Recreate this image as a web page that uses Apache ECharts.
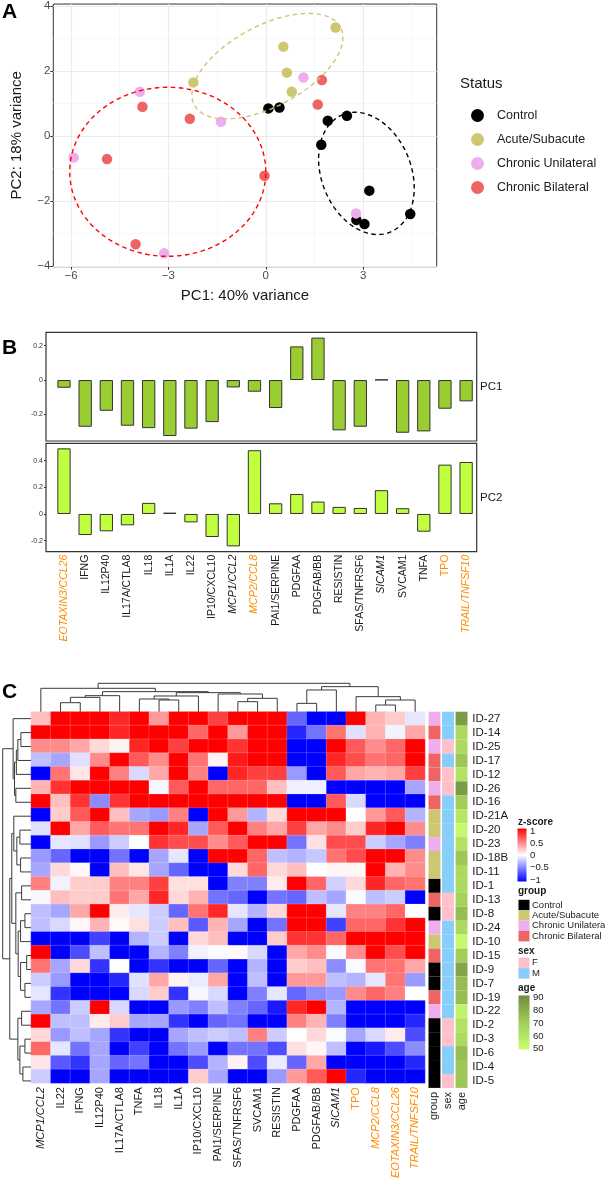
<!DOCTYPE html>
<html><head><meta charset="utf-8">
<script src="https://cdn.jsdelivr.net/npm/echarts@6/dist/echarts.min.js"></script>
<style>html,body{margin:0;padding:0;background:#fff}#c{width:605px;height:1181px}</style>
</head><body><div id="c"></div>
<script>
// ================= DATA =================
// Panel A: PCA scores [PC1, PC2]
const statusNames = ['Control','Acute/Subacute','Chronic Unilateral','Chronic Bilateral'];
const pcaControl = [[0.08,0.85],[0.42,0.88],[1.91,0.47],[1.71,-0.27],[2.5,0.62],[3.19,-1.68],[4.45,-2.4],[2.79,-2.58],[3.04,-2.71]];
const pcaAcute = [[2.15,3.34],[0.54,2.75],[0.65,1.95],[0.8,1.36],[-2.23,1.65]];
const pcaUnilateral = [[-3.88,1.36],[-1.38,0.44],[1.16,1.8],[-5.92,-0.66],[-3.13,-3.61],[2.78,-2.38]];
const pcaBilateral = [[-3.8,0.9],[-2.34,0.53],[-4.89,-0.71],[-0.04,-1.22],[-4.01,-3.33],[1.73,1.72],[1.6,0.97]];
// confidence ellipses (data units): centre, semi-axes, rotation (deg)
const ellipseCx = [3.1, 0.05, -3.02];
const ellipseCy = [-1.15, 2.15, -1.1];
const ellipseA = [1.95, 2.55, 3.02];
const ellipseB = [1.38, 1.24, 2.6];
const ellipseAngle = [112, 28, 0];
const pcaXTicks = [-6,-3,0,3];
const pcaYTicks = [-4,-2,0,2,4];
const pcaXMinor = [-4.5,-1.5,1.5,4.5];
const pcaYMinor = [-3,-1,1,3];

// Panel B: loadings
const markers = ['EOTAXIN3/CCL26','IFNG','IL12P40','IL17A/CTLA8','IL18','IL1A','IL22','IP10/CXCL10','MCP1/CCL2','MCP2/CCL8','PAI1/SERPINE','PDGFAA','PDGFAB/BB','RESISTIN','SFAS/TNFRSF6','SICAM1','SVCAM1','TNFA','TPO','TRAIL/TNFSF10'];
const pc1Loadings = [-0.045,-0.272,-0.179,-0.266,-0.28,-0.326,-0.283,-0.245,-0.043,-0.068,-0.163,0.196,0.247,-0.293,-0.272,0.002,-0.307,-0.299,-0.167,-0.124];
const pc2Loadings = [0.492,-0.158,-0.13,-0.085,0.083,0.01,-0.063,-0.173,-0.243,0.478,0.08,0.15,0.093,0.053,0.045,0.178,0.043,-0.133,0.37,0.39];
const pc1Ticks = [-0.2,0,0.2];
const pc2Ticks = [-0.2,0,0.2,0.4];

// Panel C: heatmap (z-scores)
const heatCols = ['MCP1/CCL2','IL22','IFNG','IL12P40','IL17A/CTLA8','TNFA','IL18','IL1A','IP10/CXCL10','PAI1/SERPINE','SFAS/TNFRSF6','SVCAM1','RESISTIN','PDGFAA','PDGFAB/BB','SICAM1','TPO','MCP2/CCL8','EOTAXIN3/CCL26','TRAIL/TNFSF10'];
const rowIds = ['ID-27','ID-14','ID-25','ID-17','ID-12','ID-26','ID-16','ID-21A','ID-20','ID-23','ID-18B','ID-11','ID-1','ID-13','ID-8','ID-24','ID-10','ID-15','ID-9','ID-7','ID-19','ID-22','ID-2','ID-3','ID-6','ID-4','ID-5'];
const zScores = [
 [0.25,1,1,1,0.85,1,0.4,1,1,0.75,1,1,1,-0.6,-1,-1,1,0.3,0.2,-0.1],
 [1,1,1,1,0.85,1,1,1,0.6,1,0.4,1,1,-0.85,-0.55,0.55,-0.12,0.3,-0.05,0.35],
 [0.45,0.45,0.35,0.15,0.05,0.85,1,0.75,1,1,0.8,1,1,-1,-1,1,0.65,0.45,0.6,1],
 [-0.25,-0.35,-0.12,0.45,1,0.65,0.45,1,0.55,0.05,0.9,1,1,-1,-1,0.85,0.7,0.55,0.6,1],
 [-1,0.55,0.1,1,0.5,-0.15,0.35,1,0.5,-1,0.85,0.75,0.75,-0.4,-1,0.65,0.35,0.3,0.35,0.75],
 [0.3,0.8,1,1,1,1,-0.03,0.65,1,0.6,0.6,0.6,0.25,-0.06,-0.06,-1,-1,-1,-1,-0.35],
 [1,0.25,0.8,-0.45,0.8,1,1,1,1,1,1,1,1,-1,-1,0.65,-0.15,-1,-1,-1],
 [-1,0.2,0.65,1,0.25,-0.35,-0.4,0.5,-1,1,0.4,-0.3,0.15,1,1,1,0,0.4,0.65,-0.3],
 [-0.12,1,0.35,0.65,0.55,0.55,1,0.85,-0.35,0.65,1,0.5,0.35,0.75,0.35,0.45,0.2,0.85,1,0.45],
 [-1,-0.1,-0.12,-0.4,-0.2,0,0.8,0.7,0.7,0.45,0.65,1,1,-0.55,0.12,0.7,0.7,-0.2,-0.35,-0.5],
 [-0.4,-0.6,-1,-1,-0.55,-1,-0.35,-0.1,-1,1,1,0.6,-0.25,-0.3,-0.22,0.55,0.7,1,1,0.45],
 [-0.35,0.15,0.03,-1,0.25,0.1,-0.35,-0.6,-1,-1,0.15,0.6,0.15,0.25,0,0.04,0.03,1,0.3,0.45],
 [0.5,-0.05,0.2,0.2,0.5,0.5,0.75,0.12,0.12,-1,-0.5,-0.5,0.08,1,0.6,-0.18,0.15,0.85,0.6,0.55],
 [-0.03,0.25,0.2,0.2,0.55,0.35,0.85,0.15,0.3,-0.55,-0.6,-1,-0.55,-0.6,-0.25,-0.35,-0.02,-0.25,-0.2,-1],
 [-0.25,-0.35,0.35,1,0.08,-0.1,-0.2,-0.6,0.55,0.85,-0.1,-0.3,0.15,1,1,-0.1,0.5,0.5,0.6,0],
 [-0.25,-0.15,0.03,0.3,0.02,0.12,-0.2,0.25,-0.65,0.3,-0.35,-1,-0.55,1,1,-0.75,0.6,0.6,0.8,1],
 [-1,-1,-1,-0.75,-1,-0.3,-0.2,-1,0.15,0.25,-1,-1,0.2,0.8,0.8,0.6,1,1,1,1],
 [1,-1,-0.7,-0.25,-1,-1,-0.3,-0.5,-0.05,-0.02,0.02,-0.15,-1,0.35,0.45,-0.02,0.45,1,0.7,1],
 [0.55,-0.35,0.15,-0.8,0,-1,-0.8,-1,-1,-0.6,-1,-0.3,-1,0.2,0.25,-0.45,-0.02,0.55,0.55,0.35],
 [-0.2,-0.4,-1,-1,-0.85,-0.12,0.35,0.05,-0.08,0.35,-1,-0.25,-1,0.4,0.4,-0.25,-0.3,-0.1,0.55,-0.4],
 [-0.1,-0.8,-1,-1,-1,-0.15,0.2,-0.8,-0.03,-0.15,-1,-0.5,-0.1,-0.6,-0.45,-0.4,0.45,0.6,0.5,0],
 [-0.35,-0.55,-0.2,1,-0.15,-1,-1,-0.4,-0.5,-0.25,-0.5,-0.6,-0.9,0.85,1,-0.3,-1,-1,-1,-1],
 [1,-0.25,-0.25,0.08,0.2,-0.35,-0.35,-0.8,-1,-0.6,-0.55,-1,-1,0.5,0.3,-0.5,-1,-1,-1,-0.85],
 [0.15,-0.4,-0.25,-0.35,-0.8,-1,-1,-0.35,-0.25,-0.2,-0.25,0.5,-0.2,0,0.15,-0.02,-0.35,-0.15,0.08,-0.7],
 [0.6,-0.1,-0.55,-0.35,-1,-0.75,-1,-0.55,-0.4,-1,-0.55,-0.55,-0.7,0.12,0.03,-0.25,-1,-0.9,-0.7,-0.45],
 [0.1,-0.65,-0.8,-0.35,-0.6,-0.55,-1,-1,-0.7,-0.3,0.05,-0.7,-0.08,-0.6,0.35,-1,-1,-1,-1,-0.85],
 [-0.2,-1,-1,-0.35,-1,-1,-1,-1,0.2,-0.35,-1,-1,-0.4,0.4,0.65,1,-0.85,-1,-1,-1]
];
const rowGroup = ['Chronic Unilateral','Chronic Bilateral','Chronic Unilateral','Chronic Bilateral','Chronic Bilateral','Chronic Unilateral','Chronic Bilateral','Acute/Subacute','Acute/Subacute','Chronic Unilateral','Acute/Subacute','Acute/Subacute','Control','Chronic Bilateral','Control','Chronic Unilateral','Acute/Subacute','Chronic Bilateral','Control','Control','Chronic Bilateral','Chronic Unilateral','Control','Control','Control','Control','Control'];
const rowSex = ['M','M','F','M','F','F','M','M','M','M','M','M','M','F','F','M','M','M','M','M','M','M','F','F','M','M','F'];
const rowAge = [85,65,65,72,62,85,70,60,52,62,72,65,65,68,75,65,52,70,82,75,75,55,62,65,75,72,72];
const annotCols = ['group','sex','age'];
// hierarchical clustering merges (R hclust style: negative = leaf, positive = merge #), height
const colMerges = [[-2,-3,27],[1,-4,43],[2,-5,48],[-7,-8,35],[-6,4,38],[5,-9,47],[-11,-12,30],[7,-13,40],[-10,8,53],[6,9,57],[3,10,60],[-1,11,70],[-14,-15,25],[13,-16,65],[-18,-19,20],[15,-20,35],[-17,16,45],[14,17,75],[12,18,85]];
const rowMerges = [[-2,-3,10],[1,-4,13],[2,-5,14.5],[-6,-7,15],[3,4,16.3],[-1,5,17.7],[-9,-10,11],[-11,-12,10.3],[7,8,14],[-8,9,17],[-13,-14,9.3],[-15,-16,6],[12,-17,10.3],[-18,-19,4.3],[-20,-21,6],[14,15,10.3],[13,16,12.7],[11,17,15],[10,18,19],[-22,-23,9.3],[-24,-25,6],[-26,-27,8],[21,22,11],[20,23,13],[19,24,21],[6,25,28]];
const zLegendTicks = [1,0.5,0,-0.5,-1];
const ageLegendTicks = [90,80,70,60,50];

// ================= STYLES =================
const FONT = '"Liberation Sans", Arial, sans-serif';
const statusColors = {'Control':'#000000','Acute/Subacute':'#CDC673','Chronic Unilateral':'#EEAEEE','Chronic Bilateral':'#EE6363'};
const ellipseColors = ['#000000','#CDC673','#FF0000'];
const sexColors = {F:'#FFC0CB', M:'#87CEFA'};
const orangeMarkers = ['EOTAXIN3/CCL26','MCP2/CCL8','TPO','TRAIL/TNFSF10'];
const italicMarkers = ['EOTAXIN3/CCL26','MCP1/CCL2','MCP2/CCL8','SICAM1','TRAIL/TNFSF10'];
function markerLabel(n){
  const k = (orangeMarkers.includes(n)?'o':'k') + (italicMarkers.includes(n)?'i':'n');
  return '{'+k+'|'+n+'}';
}
function richFor(size){
  return {
    on:{color:'#FF8C00',fontSize:size,fontFamily:FONT},
    oi:{color:'#FF8C00',fontStyle:'italic',fontSize:size,fontFamily:FONT},
    kn:{color:'#1a1a1a',fontSize:size,fontFamily:FONT},
    ki:{color:'#1a1a1a',fontStyle:'italic',fontSize:size,fontFamily:FONT}
  };
}
const minus = v => String(v).replace('-', '\u2212');

// ================= DERIVED =================
function ellipsePath(i){
  const pts=[]; const th=ellipseAngle[i]*Math.PI/180;
  for(let k=0;k<=120;k++){
    const t=2*Math.PI*k/120;
    const ca=ellipseA[i]*Math.cos(t), sb=ellipseB[i]*Math.sin(t);
    pts.push([ellipseCx[i]+ca*Math.cos(th)-sb*Math.sin(th), ellipseCy[i]+ca*Math.sin(th)+sb*Math.cos(th)]);
  }
  return pts;
}
function dendroSegments(merges){
  const pos=[], hgt=[], res=[];
  merges.forEach((m,k)=>{
    const get = c => c<0 ? [(-c)-0.5,0] : [pos[c-1],hgt[c-1]];
    const a=get(m[0]), b=get(m[1]);
    pos[k]=(a[0]+b[0])/2; hgt[k]=m[2];
    res.push([a[0],a[1],b[0],b[1],m[2]]);
  });
  return res;
}
const heatData=[];
zScores.forEach((row,r)=>row.forEach((v,c)=>heatData.push([c,r,v])));
const annotData=[], annotColors=[];
rowIds.forEach((id,r)=>{
  annotData.push([0,r]); annotColors.push(statusColors[rowGroup[r]]);
  annotData.push([1,r]); annotColors.push(sexColors[rowSex[r]]);
});
const ageData = rowAge.map((a,r)=>[2,r,a]);

// ================= LAYOUT =================
const G = {
  pca:{left:53.3, top:4, width:383.4, height:262.7},
  pc1:{left:46, top:332.3, width:430.7, height:108.7},
  pc2:{left:46, top:443.3, width:430.7, height:108.4},
  heat:{left:31, top:711.7, width:394, height:376.2},
  cdend:{left:31, top:683.3, width:394, height:28.4},
  rdend:{left:2.7, top:711.7, width:28.3, height:376.2},
  annot:{left:427.7, top:711.7, width:40.6, height:376.2}
};
const grids = Object.values(G).map(g=>Object.assign({containLabel:false, show:false}, g));
grids[0].show=true; grids[0].borderColor='#333'; grids[0].borderWidth=1;
grids[1].show=true; grids[1].borderColor='#333'; grids[1].borderWidth=1.2;
grids[2].show=true; grids[2].borderColor='#333'; grids[2].borderWidth=1.2;

const noLine = {show:false,onZero:false};
const hidden = {axisLine:noLine,axisTick:{show:false},axisLabel:{show:false},splitLine:{show:false}};

const xAxes = [
  {gridIndex:0,type:'value',min:-6.545,max:5.265,axisLine:noLine,splitLine:{show:false},
   axisTick:{customValues:pcaXTicks,length:3,lineStyle:{color:'#333'}},
   axisLabel:{customValues:pcaXTicks,fontSize:11.5,color:'#4D4D4D',margin:3,fontFamily:FONT,formatter:minus}},
  Object.assign({gridIndex:1,type:'value',min:-0.85,max:19.5},hidden),
  {gridIndex:2,type:'value',min:-0.85,max:19.5,axisLine:noLine,axisTick:{show:false},splitLine:{show:false},
   axisLabel:{customValues:markers.map((m,i)=>i),rotate:90,margin:3,fontSize:10.5,formatter:v=>markerLabel(markers[Math.round(v)]),rich:richFor(10.5)}},
  {gridIndex:3,type:'category',data:heatCols,axisLine:noLine,axisTick:{show:false},splitLine:{show:false},
   axisLabel:{interval:0,rotate:90,margin:4,fontSize:11,formatter:v=>markerLabel(v),rich:richFor(11)}},
  Object.assign({gridIndex:4,type:'value',min:0,max:heatCols.length},hidden),
  Object.assign({gridIndex:5,type:'value',min:0,max:28,inverse:true},hidden),
  {gridIndex:6,type:'category',data:annotCols,axisLine:noLine,axisTick:{show:false},splitLine:{show:false},
   axisLabel:{interval:0,rotate:90,margin:4,fontSize:11,color:'#1a1a1a',fontFamily:FONT}}
];
const yAxes = [
  {gridIndex:0,type:'value',min:-4.02,max:4.06,axisLine:noLine,splitLine:{show:false},
   axisTick:{customValues:pcaYTicks,length:3,lineStyle:{color:'#333'}},
   axisLabel:{customValues:pcaYTicks,fontSize:11.5,color:'#4D4D4D',margin:3,fontFamily:FONT,formatter:minus}},
  {gridIndex:1,type:'value',min:-0.355,max:0.278,axisLine:noLine,splitLine:{show:false},
   axisTick:{customValues:pc1Ticks,length:2,lineStyle:{color:'#333'}},
   axisLabel:{customValues:pc1Ticks,fontSize:7,color:'#333',margin:3,fontFamily:FONT,formatter:v=>v===0?'0':v.toFixed(1)}},
  {gridIndex:2,type:'value',min:-0.283,max:0.53,axisLine:noLine,splitLine:{show:false},
   axisTick:{customValues:pc2Ticks,length:2,lineStyle:{color:'#333'}},
   axisLabel:{customValues:pc2Ticks,fontSize:7,color:'#333',margin:3,fontFamily:FONT,formatter:v=>v===0?'0':v.toFixed(1)}},
  Object.assign({gridIndex:3,type:'category',data:rowIds,inverse:true},hidden),
  Object.assign({gridIndex:4,type:'value',min:0,max:85},hidden),
  Object.assign({gridIndex:5,type:'value',min:0,max:rowIds.length,inverse:true},hidden),
  {gridIndex:6,type:'category',data:rowIds,inverse:true,position:'right',axisLine:noLine,axisTick:{show:false},splitLine:{show:false},
   axisLabel:{interval:0,margin:4,fontSize:11.5,color:'#1a1a1a',fontFamily:FONT}}
];

const series = [];
const pcaSets = [pcaControl,pcaAcute,pcaUnilateral,pcaBilateral];
statusNames.forEach((n,i)=>series.push({name:n,type:'scatter',xAxisIndex:0,yAxisIndex:0,data:pcaSets[i],symbolSize:10.5,z:3,
  itemStyle:{color:statusColors[n],opacity:1},emphasis:{disabled:true}}));
// panel grid lines
const gl = [];
pcaXTicks.forEach(v=>gl.push({xAxis:v,lineStyle:{color:'#EBEBEB',width:1.1,type:'solid'}}));
pcaXMinor.forEach(v=>gl.push({xAxis:v,lineStyle:{color:'#F2F2F2',width:0.6,type:'solid'}}));
pcaYTicks.forEach(v=>gl.push({yAxis:v,lineStyle:{color:'#EBEBEB',width:1.1,type:'solid'}}));
pcaYMinor.forEach(v=>gl.push({yAxis:v,lineStyle:{color:'#F2F2F2',width:0.6,type:'solid'}}));
series.push({name:'grid',type:'line',xAxisIndex:0,yAxisIndex:0,data:[[0,0]],showSymbol:false,lineStyle:{opacity:0},z:1,silent:true,
  markLine:{silent:true,symbol:['none','none'],label:{show:false},z:1,data:gl,animation:false}});
ellipseCx.forEach((c,i)=>series.push({name:'ellipse'+i,type:'line',xAxisIndex:0,yAxisIndex:0,data:ellipsePath(i),showSymbol:false,smooth:false,z:4,silent:true,
  lineStyle:{color:ellipseColors[i],width:1.4,type:[4.5,3.5]}}));
// panel B
series.push({type:'bar',xAxisIndex:1,yAxisIndex:1,barWidth:13.3,data:pc1Loadings.map((v,i)=>[i,v]),
  itemStyle:{color:'#9ACD32',borderColor:'#333',borderWidth:1},silent:true});
series.push({type:'bar',xAxisIndex:2,yAxisIndex:2,barWidth:13.3,data:pc2Loadings.map((v,i)=>[i,v]),
  itemStyle:{color:'#C0FF3E',borderColor:'#333',borderWidth:1},silent:true});
// panel C heatmap
const heatIdx = series.length;
series.push({type:'heatmap',xAxisIndex:3,yAxisIndex:3,data:heatData,silent:true,
  itemStyle:{borderColor:'rgba(255,255,255,0.35)',borderWidth:0.5},emphasis:{disabled:true}});
series.push({type:'custom',xAxisIndex:4,yAxisIndex:4,data:dendroSegments(colMerges),silent:true,
  renderItem:(p,api)=>{
    const a=api.value(0),ha=api.value(1),b=api.value(2),hb=api.value(3),h=api.value(4);
    return {type:'polyline',shape:{points:[api.coord([a,ha]),api.coord([a,h]),api.coord([b,h]),api.coord([b,hb])]},style:{stroke:'#3a3a3a',lineWidth:1,fill:null}};
  }});
series.push({type:'custom',xAxisIndex:5,yAxisIndex:5,data:dendroSegments(rowMerges),silent:true,
  renderItem:(p,api)=>{
    const a=api.value(0),ha=api.value(1),b=api.value(2),hb=api.value(3),h=api.value(4);
    return {type:'polyline',shape:{points:[api.coord([ha,a]),api.coord([h,a]),api.coord([h,b]),api.coord([hb,b])]},style:{stroke:'#3a3a3a',lineWidth:1,fill:null}};
  }});
series.push({type:'custom',xAxisIndex:6,yAxisIndex:6,data:annotData,silent:true,
  renderItem:(p,api)=>{
    const c=api.coord([api.value(0),api.value(1)]), s=api.size([1,1]);
    return {type:'rect',shape:{x:c[0]-s[0]/2+0.8,y:c[1]-s[1]/2,width:s[0]-1.6,height:s[1]},style:{fill:annotColors[p.dataIndex]}};
  }});
const ageIdx = series.length;
series.push({type:'custom',xAxisIndex:6,yAxisIndex:6,data:ageData,silent:true,
  renderItem:(p,api)=>{
    const c=api.coord([api.value(0),api.value(1)]), s=api.size([1,1]);
    return {type:'rect',shape:{x:c[0]-s[0]/2+0.8,y:c[1]-s[1]/2,width:s[0]-1.6,height:s[1]},style:{fill:api.visual('color')}};
  }});

// ================= GRAPHICS (titles, legends) =================
const gfx = [];
const txt = (x,y,text,opt)=>gfx.push(Object.assign({type:'text',x:x,y:y,silent:true,style:Object.assign({text:text,fontFamily:FONT,fill:'#1a1a1a',fontSize:12,textVerticalAlign:'middle'},opt||{})}));
txt(2,12,'A',{fontSize:21,fontWeight:'bold',fill:'#000'});
txt(2,348,'B',{fontSize:21,fontWeight:'bold',fill:'#000'});
txt(2,692,'C',{fontSize:21,fontWeight:'bold',fill:'#000'});
txt(G.pca.left+G.pca.width/2,296,'PC1: 40% variance',{fontSize:15,textAlign:'center'});
gfx.push({type:'text',x:17,y:G.pca.top+G.pca.height/2,rotation:Math.PI/2,silent:true,style:{text:'PC2: 18% variance',fontFamily:FONT,fontSize:15,fill:'#1a1a1a',textAlign:'center',textVerticalAlign:'middle'}});
txt(460,84,'Status',{fontSize:15});
txt(480,G.pc1.top+G.pc1.height/2,'PC1',{fontSize:11.5});
txt(480,G.pc2.top+G.pc2.height/2,'PC2',{fontSize:11.5});
// z-score legend
txt(518,822,'z-score',{fontSize:10,fontWeight:'bold'});
gfx.push({type:'rect',silent:true,shape:{x:517.5,y:828.5,width:9,height:53},style:{fill:new echarts.graphic.LinearGradient(0,0,0,1,[{offset:0,color:'#FF0000'},{offset:0.5,color:'#FFFFFF'},{offset:1,color:'#0000FF'}])}});
zLegendTicks.forEach((t,i)=>txt(530,831+i*12.25,minus(t),{fontSize:9.5}));
// group legend
txt(518,891,'group',{fontSize:10,fontWeight:'bold'});
statusNames.forEach((n,i)=>{
  gfx.push({type:'rect',silent:true,shape:{x:518.5,y:899.8+i*10.4,width:11,height:10.4},style:{fill:statusColors[n]}});
  txt(532,905+i*10.4,n,{fontSize:9.5});
});
txt(518,951,'sex',{fontSize:10,fontWeight:'bold'});
['F','M'].forEach((n,i)=>{
  gfx.push({type:'rect',silent:true,shape:{x:518.5,y:957.5+i*10.6,width:11,height:10.6},style:{fill:sexColors[n]}});
  txt(532,962.8+i*10.6,n,{fontSize:9.5});
});
txt(518,988.5,'age',{fontSize:10,fontWeight:'bold'});
gfx.push({type:'rect',silent:true,shape:{x:518.5,y:995.5,width:11,height:54},style:{fill:new echarts.graphic.LinearGradient(0,0,0,1,[{offset:0,color:'#6E8B3D'},{offset:0.5,color:'#A2CD5A'},{offset:1,color:'#CAFF70'}])}});
ageLegendTicks.forEach((t,i)=>txt(533,997.5+i*12.8,String(t),{fontSize:9.5}));

const option = {
  animation:false,
  backgroundColor:'#ffffff',
  textStyle:{fontFamily:FONT},
  grid:grids, xAxis:xAxes, yAxis:yAxes, series:series, graphic:gfx,
  legend:{data:statusNames,orient:'vertical',left:466,top:104,itemWidth:13,itemHeight:13,itemGap:11,icon:'circle',selectedMode:false,
    textStyle:{fontSize:12.5,color:'#1a1a1a',fontFamily:FONT,padding:[0,0,0,8]}},
  visualMap:[
    {type:'continuous',show:false,seriesIndex:heatIdx,dimension:2,min:-1,max:1,inRange:{color:['#0000FF','#FFFFFF','#FF0000']}},
    {type:'continuous',show:false,seriesIndex:ageIdx,dimension:2,min:50,max:90,inRange:{color:['#CAFF70','#A2CD5A','#6E8B3D']}}
  ]
};
const chart = echarts.init(document.getElementById('c'),null,{renderer:'canvas',width:605,height:1181});
chart.setOption(option);
</script></body></html>
